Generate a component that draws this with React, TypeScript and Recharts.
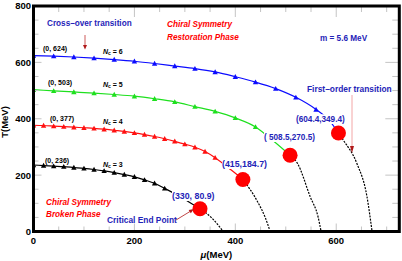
import { ComposedChart, Line, XAxis, YAxis } from 'recharts'

// chart box and plot frame (px)
const W = 402
const H = 261
const MARGIN = { top: 6, right: 2.7, bottom: 0, left: 0 }
const Y_AXIS_W = 33.5
const X_AXIS_H = 29.5
const PLOT_L = MARGIN.left + Y_AXIS_W
const PLOT_R = W - MARGIN.right
const PLOT_T = MARGIN.top
const PLOT_B = H - X_AXIS_H

const MU_MAX = 725
const T_MAX = 800
const X_TICKS = [0, 50, 100, 150, 200, 250, 300, 350, 400, 450, 500, 550, 600, 650, 700]
const X_LABELS = [0, 200, 400, 600]
const Y_TICKS = [0, 50, 100, 150, 200, 250, 300, 350, 400, 450, 500, 550, 600, 650, 700, 750, 800]
const Y_LABELS = [0, 200, 400, 600, 800]

// N_c = 6
const NC6_MU = [0, 40, 80, 120, 160, 200, 240, 280, 320, 360, 400, 440, 480, 520, 560]
const NC6_T = [624, 622, 619, 615, 610, 604, 596, 587, 578, 566, 549, 530, 507, 476, 433]
const NC6_TAIL_MU = [585]
const NC6_TAIL_T = [397]
const NC6_CEP = { mu: 604.4, T: 349.4 }
const NC6_FO_MU = [614, 641, 661, 671]
const NC6_FO_T = [324, 241, 123, 0]

// N_c = 5
const NC5_MU = [0, 40, 80, 120, 160, 200, 240, 280, 320, 360, 400, 440]
const NC5_T = [503, 499, 495, 491, 486, 480, 471, 460, 443, 426, 403, 371]
const NC5_TAIL_MU = [475]
const NC5_TAIL_T = [322]
const NC5_CEP = { mu: 508.5, T: 270.5 }
const NC5_FO_MU = [523, 548.5, 564, 570]
const NC5_FO_T = [242, 123, 52, 0]

// N_c = 4
const NC4_MU = [0, 20, 40, 60, 80, 100, 120, 140, 160, 180, 200, 220, 240, 260, 280, 300, 320, 340, 360]
const NC4_T = [377, 376, 374, 372, 370, 368, 366, 363, 359, 355, 350, 344, 337, 329, 320, 310, 299, 284, 262]
const NC4_TAIL_MU = [392]
const NC4_TAIL_T = [218]
const NC4_CEP = { mu: 415, T: 184.7 }
const NC4_FO_MU = [445.5, 459, 469]
const NC4_FO_T = [101, 51, 0]

// N_c = 3
const NC3_MU = [0, 20, 40, 60, 80, 100, 120, 140, 160, 180, 200, 220, 240, 260]
const NC3_T = [236, 234, 232, 230, 227, 224, 220, 215, 209, 202, 194, 183, 171, 153]
const NC3_TAIL_MU = [280, 305]
const NC3_TAIL_T = [134, 108]
const NC3_CEP = { mu: 330, T: 80.9 }
const NC3_FO_MU = [354, 376]
const NC3_FO_T = [47, 0]

type Pt = { mu: number; T: number }
const zip = (mu: number[], t: number[]): Pt[] => mu.map((m, i) => ({ mu: m, T: t[i] }))

const CURVES = [
  { nc: 6, color: '#0c0cff', marks: zip(NC6_MU, NC6_T), tail: zip(NC6_TAIL_MU, NC6_TAIL_T), cep: NC6_CEP, fo: zip(NC6_FO_MU, NC6_FO_T) },
  { nc: 5, color: '#1ee01e', marks: zip(NC5_MU, NC5_T), tail: zip(NC5_TAIL_MU, NC5_TAIL_T), cep: NC5_CEP, fo: zip(NC5_FO_MU, NC5_FO_T) },
  { nc: 4, color: '#ff1010', marks: zip(NC4_MU, NC4_T), tail: zip(NC4_TAIL_MU, NC4_TAIL_T), cep: NC4_CEP, fo: zip(NC4_FO_MU, NC4_FO_T) },
  { nc: 3, color: '#000000', marks: zip(NC3_MU, NC3_T), tail: zip(NC3_TAIL_MU, NC3_TAIL_T), cep: NC3_CEP, fo: zip(NC3_FO_MU, NC3_FO_T) },
]
const CEPS = CURVES.map((c) => c.cep)

const FONT = '"Liberation Sans", Arial, sans-serif'
const BLUE = '#1f24b8'
const RED = '#ff0000'
const DARK_RED = '#b01818'
const TICK_GREY = '#c4c4c4'

function XTick({ x, payload }: any) {
  const v = payload.value
  const major = X_LABELS.includes(v)
  return (
    <g>
      <line x1={x} x2={x} y1={PLOT_B} y2={PLOT_B - (major ? 8 : 5)} stroke={TICK_GREY} />
      <line x1={x} x2={x} y1={PLOT_T} y2={PLOT_T + (major ? 11 : 6)} stroke={TICK_GREY} />
      {major && (
        <text x={x} y={PLOT_B + 12} textAnchor="middle" fontFamily={FONT} fontWeight="bold" fontSize={9.5} fill="#000">
          {v}
        </text>
      )}
    </g>
  )
}

function YTick({ y, payload }: any) {
  const v = payload.value
  const major = Y_LABELS.includes(v)
  return (
    <g>
      <line x1={PLOT_L} x2={PLOT_L + (major ? 8 : 5)} y1={y} y2={y} stroke={TICK_GREY} />
      <line x1={PLOT_R} x2={PLOT_R - (major ? 14 : 7)} y1={y} y2={y} stroke={TICK_GREY} />
      {major && (
        <text x={PLOT_L - 2.5} y={y + 3.4} textAnchor="end" fontFamily={FONT} fontWeight="bold" fontSize={9.5} fill="#000">
          {v}
        </text>
      )}
    </g>
  )
}

const triangleDot = (count: number, color: string) => (p: any) => {
  const { cx, cy, index } = p
  if (index >= count || cx == null) return <g key={index} />
  return <polygon key={index} points={`${cx - 2.7},${cy + 2.2} ${cx + 2.7},${cy + 2.2} ${cx},${cy - 2.7}`} fill={color} />
}

const cepDot = (p: any) => <circle key={p.index} cx={p.cx} cy={p.cy} r={7.5} fill="#ff0000" />

function Nc({ x, y, n }: { x: number; y: number; n: number }) {
  return (
    <text x={x} y={y} fontFamily={FONT} fontWeight="bold" fontSize={7} fill="#000">
      <tspan fontStyle="italic">N</tspan>
      <tspan fontSize={5} dy={1.5}>c</tspan>
      <tspan dy={-1.5}>{` = ${n}`}</tspan>
    </text>
  )
}

const CEP_LABELS = [
  { text: '(604.4,349.4)', x: 296, y: 122, size: 8.2, w: 50 },
  { text: '( 508.5,270.5)', x: 264, y: 140, size: 8.2, w: 53 },
  { text: '(415,184.7)', x: 222, y: 167, size: 8.8, w: 44 },
  { text: '(330, 80.9)', x: 172, y: 199, size: 8.8, w: 41 },
]

const START_LABELS = [
  { text: '(0, 624)', x: 43, y: 50.5, n: 6, ny: 53.5 },
  { text: '(0, 503)', x: 48, y: 84.5, n: 5, ny: 86.5 },
  { text: '(0, 377)', x: 50, y: 120.5, n: 4, ny: 123.5 },
  { text: '(0, 236)', x: 45, y: 162.5, n: 3, ny: 166.5 },
]

function Annotations() {
  const bold = { fontFamily: FONT, fontWeight: 'bold' as const }
  return (
    <svg width={W} height={H} style={{ position: 'absolute', left: 0, top: 0, pointerEvents: 'none' }}>
      {CEP_LABELS.map((l) => (
        <g key={l.text}>
          <rect x={l.x} y={l.y - l.size + 0.5} width={l.w} height={l.size + 1.5} fill="#fff" />
          <text x={l.x} y={l.y} {...bold} fontSize={l.size} fill={BLUE}>
            {l.text}
          </text>
        </g>
      ))}
      {START_LABELS.map((l) => (
        <g key={l.text}>
          <text x={l.x} y={l.y} {...bold} fontSize={7} fill="#000">
            {l.text}
          </text>
          <Nc x={103} y={l.ny} n={l.n} />
        </g>
      ))}

      <text x={47} y={26} {...bold} fontSize={8.2} fill={BLUE}>Cross–over transition</text>
      <line x1={85} x2={85} y1={35} y2={45} stroke="#c03030" strokeWidth={0.8} />
      <polygon points="83,45 87,45 85,49.5" fill={DARK_RED} />

      <text x={167} y={27} {...bold} fontStyle="italic" fontSize={8.2} fill={RED}>Chiral Symmetry</text>
      <text x={167} y={40} {...bold} fontStyle="italic" fontSize={8.2} fill={RED}>Restoration Phase</text>
      <text x={320} y={41} {...bold} fontSize={8.2} fill={BLUE}>m = 5.6 MeV</text>

      <text x={307} y={92} {...bold} fontSize={8.4} fill={BLUE}>First–order transition</text>
      <line x1={352} x2={352} y1={95} y2={147} stroke="#f09090" strokeWidth={0.8} />
      <polygon points="350,146 354,146 352,153" fill={DARK_RED} />

      <text x={46} y={205} {...bold} fontStyle="italic" fontSize={8.2} fill={RED}>Chiral Symmetry</text>
      <text x={46} y={217} {...bold} fontStyle="italic" fontSize={8.2} fill={RED}>Broken Phase</text>
      <text x={107} y={222.5} {...bold} fontSize={8.4} fill={BLUE}>Critical End Point</text>
      <line x1={176} y1={220} x2={190} y2={211.5} stroke={DARK_RED} strokeWidth={0.8} />
      <polygon points="194,209 190.8,213.3 188.7,209.9" fill={DARK_RED} />

      <rect x={PLOT_L} y={PLOT_T} width={PLOT_R - PLOT_L} height={PLOT_B - PLOT_T} fill="none" stroke="#000" strokeWidth={3} />

      <text x={(PLOT_L + PLOT_R) / 2} y={258} textAnchor="middle" {...bold} fontSize={9.5} fill="#000">
        <tspan fontStyle="italic">μ</tspan>(MeV)
      </text>
      <text x={0} y={0} transform={`translate(7.5, 122) rotate(-90)`} textAnchor="middle" {...bold} fontSize={9.5} fill="#000">
        T(MeV)
      </text>
    </svg>
  )
}

export default function App() {
  return (
    <div style={{ position: 'absolute', left: 0, top: 0, width: W, height: H, background: '#fff' }}>
      <ComposedChart width={W} height={H} margin={MARGIN}>
        <XAxis
          type="number"
          dataKey="mu"
          domain={[0, MU_MAX]}
          ticks={X_TICKS}
          interval={0}
          height={X_AXIS_H}
          axisLine={false}
          tickLine={false}
          tickSize={0}
          tickMargin={0}
          tick={(p: any) => <XTick {...p} />}
          allowDataOverflow
        />
        <YAxis
          type="number"
          dataKey="T"
          domain={[0, T_MAX]}
          ticks={Y_TICKS}
          interval={0}
          width={Y_AXIS_W}
          axisLine={false}
          tickLine={false}
          tickSize={0}
          tickMargin={0}
          tick={(p: any) => <YTick {...p} />}
          allowDataOverflow
        />
        {CURVES.map((c) => (
          <Line
            key={`fo-${c.nc}`}
            data={[c.cep, ...c.fo]}
            dataKey="T"
            type="monotone"
            stroke="#000"
            strokeWidth={1.2}
            strokeDasharray="2 1.2"
            dot={false}
            isAnimationActive={false}
          />
        ))}
        {CURVES.map((c) => (
          <Line
            key={`pb-${c.nc}`}
            data={[...c.marks, ...c.tail, c.cep]}
            dataKey="T"
            type="monotone"
            stroke={c.color}
            strokeWidth={1.2}
            dot={triangleDot(c.marks.length, c.color)}
            isAnimationActive={false}
          />
        ))}
        <Line data={CEPS} dataKey="T" stroke="none" dot={cepDot} isAnimationActive={false} />
      </ComposedChart>
      <Annotations />
    </div>
  )
}
